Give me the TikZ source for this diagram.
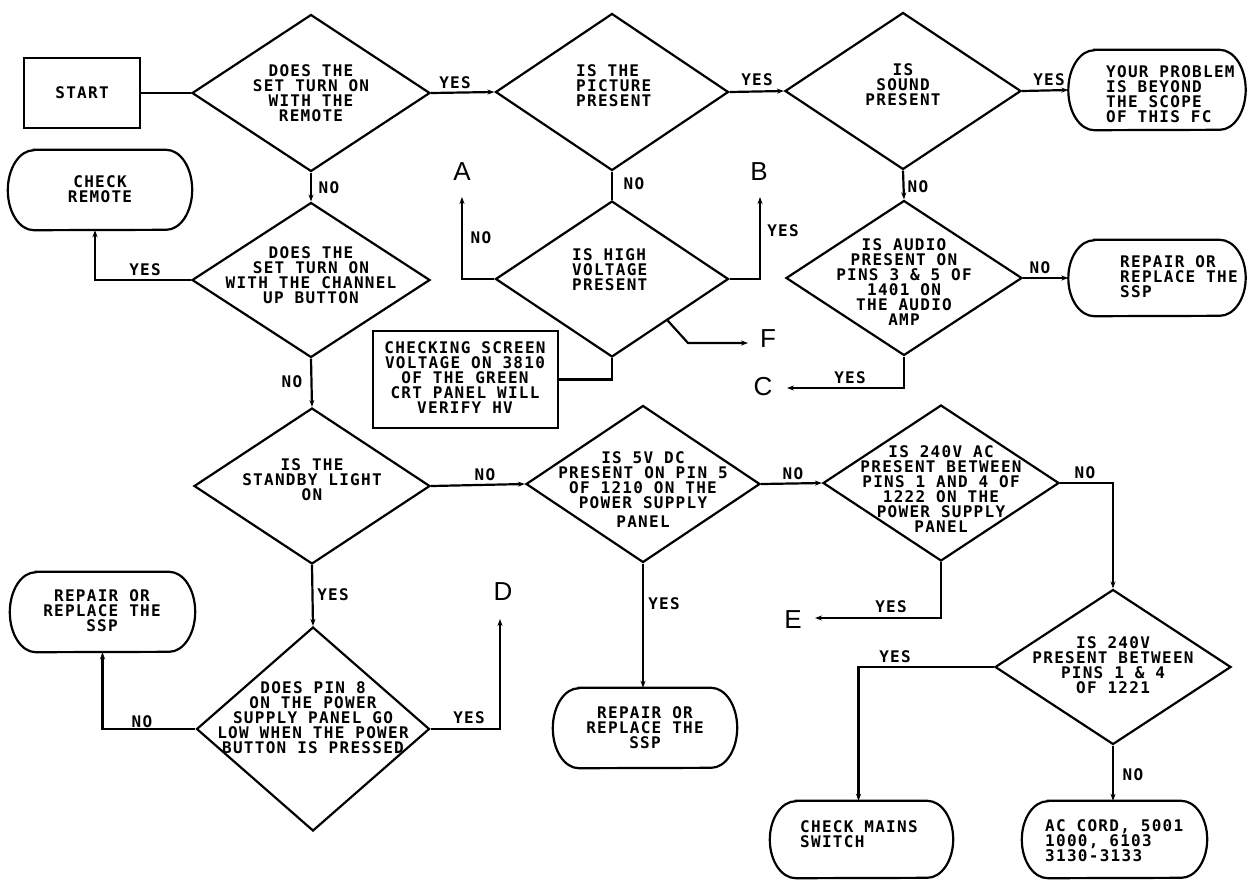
\documentclass[tikz,border=0pt]{standalone}
\usepackage{fontspec}
\newfontfamily\lblfont[LetterSpace=8]{DejaVu Sans Mono}
\newfontfamily\bigfont{Liberation Sans}
\usetikzlibrary{shapes.geometric,arrows.meta,calc}
\newcommand\termline[2]{%
  \draw[ln] ([xshift=26pt]#1.north west) -- ([xshift=-26pt]#1.north east)
    arc[start angle=90,end angle=-90,x radius=26pt,y radius=#2pt]
    -- ([xshift=26pt]#1.south west)
    arc[start angle=270,end angle=90,x radius=26pt,y radius=#2pt] -- cycle;}
\begin{document}
\begin{tikzpicture}[x=1pt,y=-1pt,
  ln/.style={line width=2.2pt},
  arr/.style={line width=2.2pt,-{Stealth[length=7pt,width=5pt]}},
  dia/.style={draw,line width=2.2pt,diamond,inner sep=0pt},
  term/.style={rectangle,inner sep=0pt},
  boxed/.style={draw,line width=2.2pt,rectangle,inner sep=0pt},
  txt/.style={font=\lblfont\bfseries\fontsize{16}{15}\selectfont,align=center,inner sep=0pt},
  txtl/.style={txt,align=left},
  lab/.style={font=\lblfont\bfseries\fontsize{16}{15}\selectfont,inner sep=0pt},
  letter/.style={font=\bigfont\fontsize{26}{26}\selectfont,inner sep=0pt}]
\useasboundingbox (0,0) rectangle (1247,879);
\fill[white] (0,0) rectangle (1247,879);

% shapes
\node[boxed,minimum width=116pt,minimum height=70pt] (start) at (82,93) {};
\node[dia,minimum width=238pt,minimum height=157pt] (d1) at (311,93) {};
\node[dia,minimum width=233pt,minimum height=157pt] (d2) at (612,92) {};
\node[dia,minimum width=236pt,minimum height=157pt] (d3) at (903,91) {};
\node[term,minimum width=177pt,minimum height=80pt] (t1) at (1157,90) {};
\node[dia,minimum width=238pt,minimum height=155pt] (d4) at (311,280) {};
\node[term,minimum width=184pt,minimum height=80pt] (r1) at (100,190) {};
\node[dia,minimum width=233pt,minimum height=156pt] (d6) at (612,279) {};
\node[boxed,minimum width=185pt,minimum height=97pt] (note) at (465.5,379.5) {};
\node[dia,minimum width=236pt,minimum height=155pt] (d7) at (904,278) {};
\node[term,minimum width=177pt,minimum height=76pt] (t2) at (1157,278) {};
\node[dia,minimum width=236pt,minimum height=156pt] (d5) at (312,486) {};
\node[dia,minimum width=234pt,minimum height=157pt] (d8) at (643,484) {};
\node[dia,minimum width=236pt,minimum height=156pt] (d9) at (941,483) {};
\node[dia,minimum width=233pt,minimum height=204pt] (d11) at (313,729) {};
\node[term,minimum width=185pt,minimum height=80pt] (r3) at (102.5,612) {};
\node[term,minimum width=184pt,minimum height=80pt] (r4) at (645,728) {};
\node[dia,minimum width=236pt,minimum height=155pt] (d10) at (1113,667) {};
\node[term,minimum width=183pt,minimum height=77pt] (r5) at (861.5,839.5) {};
\node[term,minimum width=185pt,minimum height=77pt] (r6) at (1114.5,839.5) {};
\termline{t1}{40}
\termline{r1}{40}
\termline{t2}{38}
\termline{r3}{40}
\termline{r4}{40}
\termline{r5}{38.5}
\termline{r6}{38.5}

% texts
\node[txt] (xstart) at (82,93) {START};
\node[txt] (x1) at (311,93) {DOES THE\\SET TURN ON\\WITH THE\\REMOTE};
\node[txtl,anchor=west] (x2) at (576,86) {IS THE\\PICTURE\\PRESENT};
\node[txt] (x3) at (903,85) {IS\\SOUND\\PRESENT};
\node[txtl,anchor=west] (xt1) at (1106,94) {YOUR PROBLEM\\IS BEYOND\\THE SCOPE\\OF THIS FC};
\node[txt] (x4) at (311,275) {DOES THE\\SET TURN ON\\WITH THE CHANNEL\\UP BUTTON};
\node[txt] (xr1) at (100,189) {CHECK\\REMOTE};
\node[txtl,anchor=west] (x6) at (572,270) {IS HIGH\\VOLTAGE\\PRESENT};
\node[txt] (xnote) at (465,378) {CHECKING SCREEN\\VOLTAGE ON 3810\\OF THE GREEN\\CRT PANEL WILL\\VERIFY HV};
\node[txt] (x7) at (904,282) {IS AUDIO\\PRESENT ON\\PINS 3 \& 5 OF\\1401 ON\\THE AUDIO\\AMP};
\node[txtl,anchor=west] (xt2) at (1120,277) {REPAIR OR\\REPLACE THE\\SSP};
\node[txt] (x5) at (312,480) {IS THE\\STANDBY LIGHT\\ON};
\node[txt] (x8) at (643,490) {IS 5V DC\\PRESENT ON PIN 5\\OF 1210 ON THE\\POWER SUPPLY\\[4pt]PANEL};
\node[txt] (x9) at (941,489) {IS 240V AC\\PRESENT BETWEEN\\PINS 1 AND 4 OF\\1222 ON THE\\POWER SUPPLY\\PANEL};
\node[txt] (x11) at (313,718) {DOES PIN 8\\ON THE POWER\\SUPPLY PANEL GO\\LOW WHEN THE POWER\\BUTTON IS PRESSED};
\node[txt] (xr3) at (102,611) {REPAIR OR\\REPLACE THE\\SSP};
\node[txt] (xr4) at (645,728) {REPAIR OR\\REPLACE THE\\SSP};
\node[txt] (x10) at (1113,665) {IS 240V\\PRESENT BETWEEN\\PINS 1 \& 4\\OF 1221};
\node[txtl,anchor=west] (xr5) at (800,834) {CHECK MAINS\\SWITCH};
\node[txtl,anchor=west] (xr6) at (1045,841) {AC CORD, 5001\\1000, 6103\\3130-3133};

% off-page letters
\node[letter] (A) at (462,172) {A};
\node[letter] (B) at (759,172) {B};
\node[letter] (C) at (763,387) {C};
\node[letter] (D) at (503,592) {D};
\node[letter] (E) at (793,620) {E};
\node[letter] (F) at (768,339) {F};
\coordinate (Aend) at (462,197);
\coordinate (Bend) at (760,197);
\coordinate (Cend) at (787,388);
\coordinate (Dend) at (500,619);
\coordinate (Eend) at (815,618);
\coordinate (Fk) at (688,343);
\coordinate (Fend) at (748,343);

% connectors
\draw[ln] (start.east) -- (d1.west);
\draw[arr] (d1.east) -- (d2.west);
\draw[arr] (d2.east) -- (d3.west);
\draw[arr] (d3.east) -- (t1.west);
\draw[arr] (d1.south) -- (d4.north);
\draw[arr] (d4.west) -| ([xshift=-5pt]r1.south);
\draw[arr] (d4.south) -- (d5.north);
\draw[ln] (d2.south) -- (d6.north);
\draw[arr] (d6.west) -| (Aend);
\draw[arr] (d6.east) -| (Bend);
\draw[arr] ($(d6.east)!0.526!(d6.south)$) -- (Fk) -- (Fend);
\draw[ln] (note.east) -| (d6.south);
\draw[arr] (d3.south) -- (d7.north);
\draw[arr] (d7.east) -- (t2.west);
\draw[arr] (d7.south) |- (Cend);
\draw[arr] (d5.east) -- (d8.west);
\draw[arr] (d8.east) -- (d9.west);
\draw[arr] (d9.east) -| (d10.north);
\draw[arr] (d9.south) |- (Eend);
\draw[arr] (d5.south) -- (d11.north);
\draw[arr] (d11.west) -| (r3.south);
\draw[arr] (d11.east) -| (Dend);
\draw[arr] (d8.south) -- (d8.south |- r4.north);
\draw[arr] (d10.west) -| ([xshift=-3pt]r5.north);
\draw[arr] (d10.south) -- (d10.south |- r6.north);

% branch labels
\node[lab] (y1) at (455,83) {YES};
\node[lab] (y2) at (757,80) {YES};
\node[lab] (y3) at (1049,80) {YES};
\node[lab] (n1) at (329,188) {NO};
\node[lab] (y4) at (145,270) {YES};
\node[lab] (n2) at (292,382) {NO};
\node[lab] (n3) at (634,184) {NO};
\node[lab] (n4) at (481,238) {NO};
\node[lab] (y5) at (783,231) {YES};
\node[lab] (n5) at (918,187) {NO};
\node[lab] (n6) at (1040,268) {NO};
\node[lab] (y6) at (850,378) {YES};
\node[lab] (n7) at (485,475) {NO};
\node[lab] (n8) at (793,474) {NO};
\node[lab] (n9) at (1085,473) {NO};
\node[lab] (y7) at (891,607) {YES};
\node[lab] (y8) at (333,595) {YES};
\node[lab] (n10) at (142,722) {NO};
\node[lab] (y9) at (469,718) {YES};
\node[lab] (y10) at (664,604) {YES};
\node[lab] (y11) at (895,657) {YES};
\node[lab] (n11) at (1133,775) {NO};
\end{tikzpicture}
\end{document}
